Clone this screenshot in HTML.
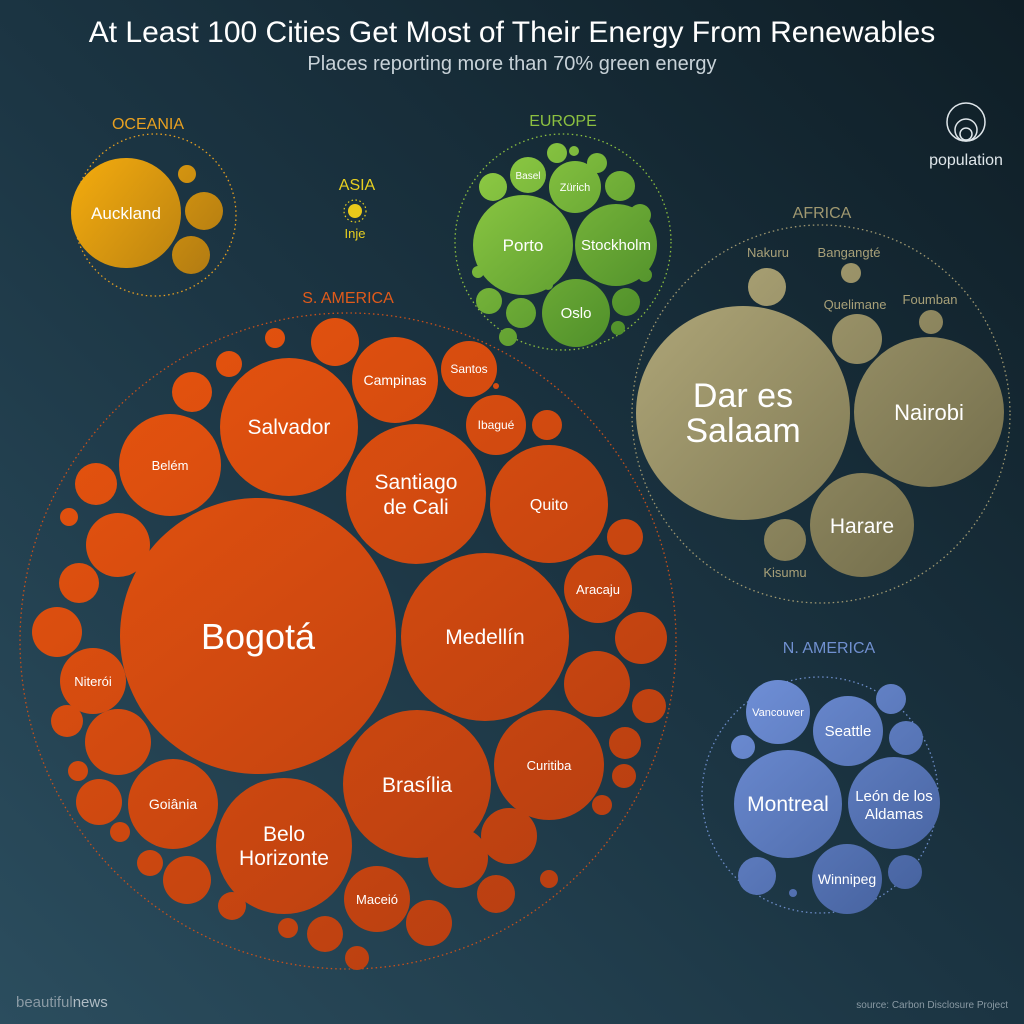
<!DOCTYPE html>
<html><head><meta charset="utf-8"><style>
html,body{margin:0;padding:0;width:1024px;height:1024px;overflow:hidden;background:#1b3340}
svg{display:block}
text{font-family:"Liberation Sans","DejaVu Sans",sans-serif}
</style></head><body>
<svg width="1024" height="1024" viewBox="0 0 1024 1024" xmlns="http://www.w3.org/2000/svg">
<defs>
<linearGradient id="bg" x1="1" y1="0" x2="0" y2="1">
<stop offset="0" stop-color="#0f1e26"/><stop offset="0.5" stop-color="#1b3442"/><stop offset="1" stop-color="#2b4d5e"/></linearGradient>
<linearGradient id="or" gradientUnits="userSpaceOnUse" x1="100" y1="320" x2="600" y2="960">
<stop offset="0" stop-color="#e8540e"/><stop offset="1" stop-color="#b43d12"/></linearGradient>
<linearGradient id="af" gradientUnits="userSpaceOnUse" x1="640" y1="240" x2="1000" y2="580">
<stop offset="0" stop-color="#b4ab7c"/><stop offset="1" stop-color="#6c6746"/></linearGradient>
<linearGradient id="eu" gradientUnits="userSpaceOnUse" x1="470" y1="140" x2="650" y2="340">
<stop offset="0" stop-color="#94d046"/><stop offset="1" stop-color="#4a8a28"/></linearGradient>
<linearGradient id="na" gradientUnits="userSpaceOnUse" x1="730" y1="680" x2="930" y2="910">
<stop offset="0" stop-color="#7090d8"/><stop offset="1" stop-color="#44609c"/></linearGradient>
<linearGradient id="oc" gradientUnits="userSpaceOnUse" x1="80" y1="160" x2="220" y2="270">
<stop offset="0" stop-color="#f2aa0e"/><stop offset="1" stop-color="#b07a12"/></linearGradient>
</defs>
<rect width="1024" height="1024" fill="url(#bg)"/>
<text x="512" y="42" text-anchor="middle" fill="#fff" font-size="30">At Least 100 Cities Get Most of Their Energy From Renewables</text>
<text x="512" y="70" text-anchor="middle" fill="#c8d2d8" font-size="20">Places reporting more than 70% green energy</text>

<g fill="none" stroke="#dfe6ea" stroke-width="1.5">
<circle cx="966" cy="122" r="19"/><circle cx="966" cy="130" r="11"/><circle cx="966" cy="134" r="6"/></g>
<text x="966" y="165" text-anchor="middle" fill="#dfe6ea" font-size="16">population</text>

<text x="148" y="129" text-anchor="middle" fill="#e8a020" font-size="16">OCEANIA</text>
<circle cx="155" cy="215" r="81" fill="none" stroke="#e8a020" stroke-width="1.3" stroke-dasharray="1.5 3"/>
<g fill="url(#oc)">
<circle cx="126" cy="213" r="55"/><circle cx="187" cy="174" r="9"/><circle cx="204" cy="211" r="19"/><circle cx="191" cy="255" r="19"/></g>
<text x="126" y="219" text-anchor="middle" fill="#fff" font-size="17">Auckland</text>

<text x="357" y="190" text-anchor="middle" fill="#e8d020" font-size="16">ASIA</text>
<circle cx="355" cy="211" r="11" fill="none" stroke="#e8d020" stroke-width="1.2" stroke-dasharray="1.5 2.5"/>
<circle cx="355" cy="211" r="7" fill="#e8c81a"/>
<text x="355" y="238" text-anchor="middle" fill="#e8d020" font-size="13">Inje</text>

<text x="563" y="126" text-anchor="middle" fill="#8cc040" font-size="16">EUROPE</text>
<circle cx="563" cy="242" r="108" fill="none" stroke="#8cc040" stroke-width="1.3" stroke-dasharray="1.5 3"/>
<g fill="url(#eu)">
<circle cx="523" cy="245" r="50"/><circle cx="616" cy="245" r="41"/><circle cx="576" cy="313" r="34"/>
<circle cx="575" cy="187" r="26"/><circle cx="528" cy="175" r="18"/><circle cx="493" cy="187" r="14"/>
<circle cx="557" cy="153" r="10"/><circle cx="574" cy="151" r="5"/><circle cx="597" cy="163" r="10"/>
<circle cx="620" cy="186" r="15"/><circle cx="640" cy="215" r="11"/><circle cx="489" cy="301" r="13"/>
<circle cx="521" cy="313" r="15"/><circle cx="508" cy="337" r="9"/><circle cx="626" cy="302" r="14"/>
<circle cx="618" cy="328" r="7"/><circle cx="645" cy="275" r="7"/><circle cx="478" cy="272" r="6"/><circle cx="548" cy="285" r="5"/></g>
<text x="523" y="251" text-anchor="middle" fill="#fff" font-size="17">Porto</text>
<text x="616" y="250" text-anchor="middle" fill="#fff" font-size="15">Stockholm</text>
<text x="576" y="318" text-anchor="middle" fill="#fff" font-size="15">Oslo</text>
<text x="575" y="191" text-anchor="middle" fill="#fff" font-size="11">Zürich</text>
<text x="528" y="179" text-anchor="middle" fill="#fff" font-size="10">Basel</text>

<text x="822" y="218" text-anchor="middle" fill="#a09870" font-size="16">AFRICA</text>
<circle cx="821" cy="414" r="189" fill="none" stroke="#a09870" stroke-width="1.3" stroke-dasharray="1.5 3"/>
<g fill="url(#af)">
<circle cx="743" cy="413" r="107"/><circle cx="929" cy="412" r="75"/><circle cx="862" cy="525" r="52"/>
<circle cx="857" cy="339" r="25"/><circle cx="767" cy="287" r="19"/><circle cx="851" cy="273" r="10"/>
<circle cx="931" cy="322" r="12"/><circle cx="785" cy="540" r="21"/></g>
<text x="743" y="407" text-anchor="middle" fill="#fff" font-size="34">Dar es</text>
<text x="743" y="442" text-anchor="middle" fill="#fff" font-size="34">Salaam</text>
<text x="929" y="420" text-anchor="middle" fill="#fff" font-size="22">Nairobi</text>
<text x="862" y="533" text-anchor="middle" fill="#fff" font-size="21">Harare</text>
<g fill="#a8a078" font-size="13" text-anchor="middle">
<text x="768" y="257">Nakuru</text><text x="849" y="257">Bangangté</text><text x="855" y="309">Quelimane</text>
<text x="930" y="304">Foumban</text><text x="785" y="577">Kisumu</text></g>

<text x="348" y="303" text-anchor="middle" fill="#e05a1a" font-size="16">S. AMERICA</text>
<circle cx="348" cy="641" r="328" fill="none" stroke="#c8501a" stroke-width="1.3" stroke-dasharray="1.5 3"/>
<g fill="url(#or)">
<circle cx="258" cy="636" r="138"/><circle cx="485" cy="637" r="84"/><circle cx="417" cy="784" r="74"/>
<circle cx="289" cy="427" r="69"/><circle cx="416" cy="494" r="70"/><circle cx="549" cy="504" r="59"/>
<circle cx="284" cy="846" r="68"/><circle cx="549" cy="765" r="55"/><circle cx="170" cy="465" r="51"/>
<circle cx="173" cy="804" r="45"/><circle cx="395" cy="380" r="43"/><circle cx="377" cy="899" r="33"/>
<circle cx="469" cy="369" r="28"/><circle cx="496" cy="425" r="30"/><circle cx="598" cy="589" r="34"/>
<circle cx="93" cy="681" r="33"/>
<circle cx="335" cy="342" r="24"/><circle cx="275" cy="338" r="10"/><circle cx="229" cy="364" r="13"/>
<circle cx="192" cy="392" r="20"/><circle cx="96" cy="484" r="21"/><circle cx="69" cy="517" r="9"/>
<circle cx="118" cy="545" r="32"/><circle cx="79" cy="583" r="20"/><circle cx="57" cy="632" r="25"/>
<circle cx="67" cy="721" r="16"/><circle cx="118" cy="742" r="33"/><circle cx="78" cy="771" r="10"/>
<circle cx="99" cy="802" r="23"/><circle cx="120" cy="832" r="10"/><circle cx="150" cy="863" r="13"/>
<circle cx="187" cy="880" r="24"/><circle cx="232" cy="906" r="14"/><circle cx="288" cy="928" r="10"/>
<circle cx="325" cy="934" r="18"/><circle cx="357" cy="958" r="12"/><circle cx="429" cy="923" r="23"/>
<circle cx="458" cy="858" r="30"/><circle cx="496" cy="894" r="19"/><circle cx="509" cy="836" r="28"/>
<circle cx="549" cy="879" r="9"/><circle cx="602" cy="805" r="10"/><circle cx="624" cy="776" r="12"/>
<circle cx="625" cy="743" r="16"/><circle cx="597" cy="684" r="33"/><circle cx="641" cy="638" r="26"/>
<circle cx="649" cy="706" r="17"/><circle cx="625" cy="537" r="18"/><circle cx="547" cy="425" r="15"/>
<circle cx="496" cy="386" r="3"/></g>
<g fill="#fff" text-anchor="middle">
<text x="258" y="649" font-size="36">Bogotá</text>
<text x="485" y="644" font-size="21">Medellín</text>
<text x="417" y="792" font-size="21">Brasília</text>
<text x="289" y="434" font-size="21">Salvador</text>
<text x="416" y="489" font-size="21">Santiago</text><text x="416" y="514" font-size="21">de Cali</text>
<text x="549" y="510" font-size="16">Quito</text>
<text x="284" y="841" font-size="21">Belo</text><text x="284" y="865" font-size="21">Horizonte</text>
<text x="549" y="770" font-size="13">Curitiba</text>
<text x="170" y="470" font-size="13">Belém</text>
<text x="173" y="809" font-size="14">Goiânia</text>
<text x="395" y="385" font-size="14">Campinas</text>
<text x="377" y="904" font-size="13">Maceió</text>
<text x="469" y="373" font-size="12">Santos</text>
<text x="496" y="429" font-size="12">Ibagué</text>
<text x="598" y="594" font-size="13">Aracaju</text>
<text x="93" y="686" font-size="13">Niterói</text></g>

<text x="829" y="653" text-anchor="middle" fill="#7090d0" font-size="16">N. AMERICA</text>
<circle cx="820" cy="795" r="118" fill="none" stroke="#6c8cc8" stroke-width="1.3" stroke-dasharray="1.5 3"/>
<g fill="url(#na)">
<circle cx="788" cy="804" r="54"/><circle cx="894" cy="803" r="46"/><circle cx="848" cy="731" r="35"/>
<circle cx="847" cy="879" r="35"/><circle cx="778" cy="712" r="32"/><circle cx="891" cy="699" r="15"/>
<circle cx="906" cy="738" r="17"/><circle cx="743" cy="747" r="12"/><circle cx="757" cy="876" r="19"/>
<circle cx="905" cy="872" r="17"/><circle cx="793" cy="893" r="4"/></g>
<g fill="#fff" text-anchor="middle">
<text x="788" y="811" font-size="21">Montreal</text>
<text x="894" y="801" font-size="15">León de los</text><text x="894" y="819" font-size="15">Aldamas</text>
<text x="848" y="736" font-size="15">Seattle</text>
<text x="847" y="884" font-size="14">Winnipeg</text>
<text x="778" y="716" font-size="11">Vancouver</text></g>

<text x="16" y="1007" fill="#8a9aa4" font-size="15">beautiful<tspan fill="#b0bcc4">news</tspan></text>
<text x="1008" y="1008" text-anchor="end" fill="#8a9aa4" font-size="10">source: Carbon Disclosure Project</text>
</svg>
</body></html>
